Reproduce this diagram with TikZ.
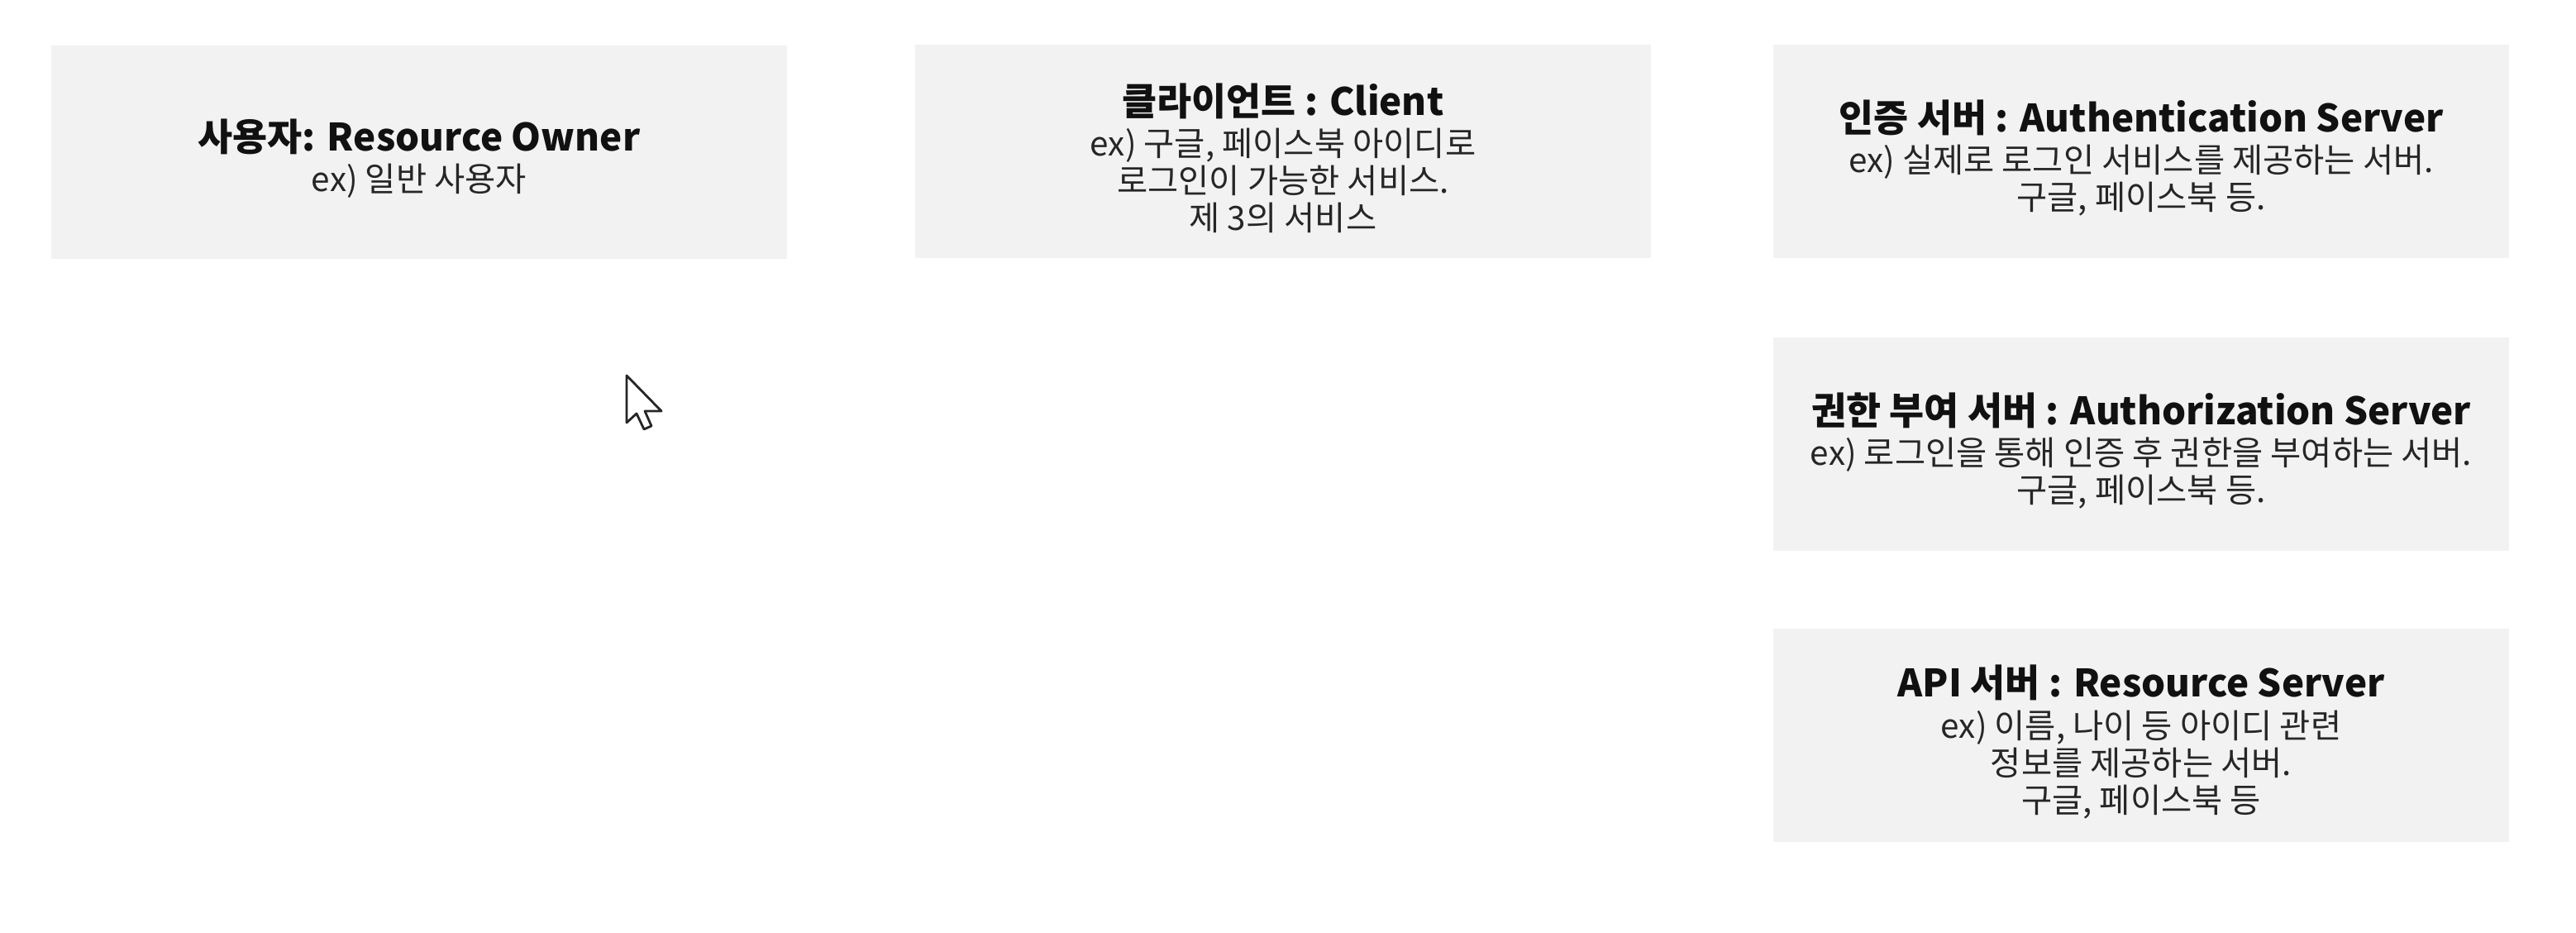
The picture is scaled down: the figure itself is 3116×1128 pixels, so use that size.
\documentclass[tikz,border=0pt]{standalone}
\usepackage{fontspec}
\setmainfont{Noto Sans CJK KR}
\usepackage{tikz}
\definecolor{OaGray}{HTML}{F2F2F2}
\definecolor{OaInk}{HTML}{111111}
\definecolor{OaNote}{HTML}{262626}
\newcommand{\rolehead}[1]{{\fontsize{13}{15}\selectfont\bfseries\color{OaInk}\rule{0pt}{15.5pt}#1}}

\begin{document}
\begin{tikzpicture}[x=0.01cm,y=-0.01cm,
  roleBox/.style={fill=OaGray,minimum width=8.9cm,minimum height=2.58cm,align=center,
    inner sep=0pt,text=OaNote,font=\fontsize{11.5}{12.8}\selectfont}]
  \useasboundingbox (0,0) rectangle (3116,1128);
  \node[roleBox] (owner) at (507,184) {\rolehead{사용자: Resource Owner}\\[1.2pt] ex) 일반 사용자};
  \node[roleBox] (client) at (1552,183) {\rolehead{클라이언트 : Client}\\[1.2pt] ex) 구글, 페이스북 아이디로\\ 로그인이 가능한 서비스.\\ 제 3의 서비스};
  \node[roleBox] (authn) at (2590,183) {\rolehead{인증 서버 : Authentication Server}\\[1.2pt] ex) 실제로 로그인 서비스를 제공하는 서버.\\ 구글, 페이스북 등.};
  \node[roleBox] (authz) at (2590,537) {\rolehead{권한 부여 서버 : Authorization Server}\\[1.2pt] ex) 로그인을 통해 인증 후 권한을 부여하는 서버.\\ 구글, 페이스북 등.};
  \node[roleBox] (api) at (2590,889) {\rolehead{API 서버 : Resource Server}\\[1.2pt] ex) 이름, 나이 등 아이디 관련\\ 정보를 제공하는 서버.\\ 구글, 페이스북 등};
  % mouse pointer
  \draw[fill=white,draw=OaNote,line width=0.8pt,line join=round]
    (758,454) -- (758,511) -- (770,500) -- (779,519) -- (788,515) -- (780,497) -- (800,497) -- cycle;
\end{tikzpicture}
\end{document}
